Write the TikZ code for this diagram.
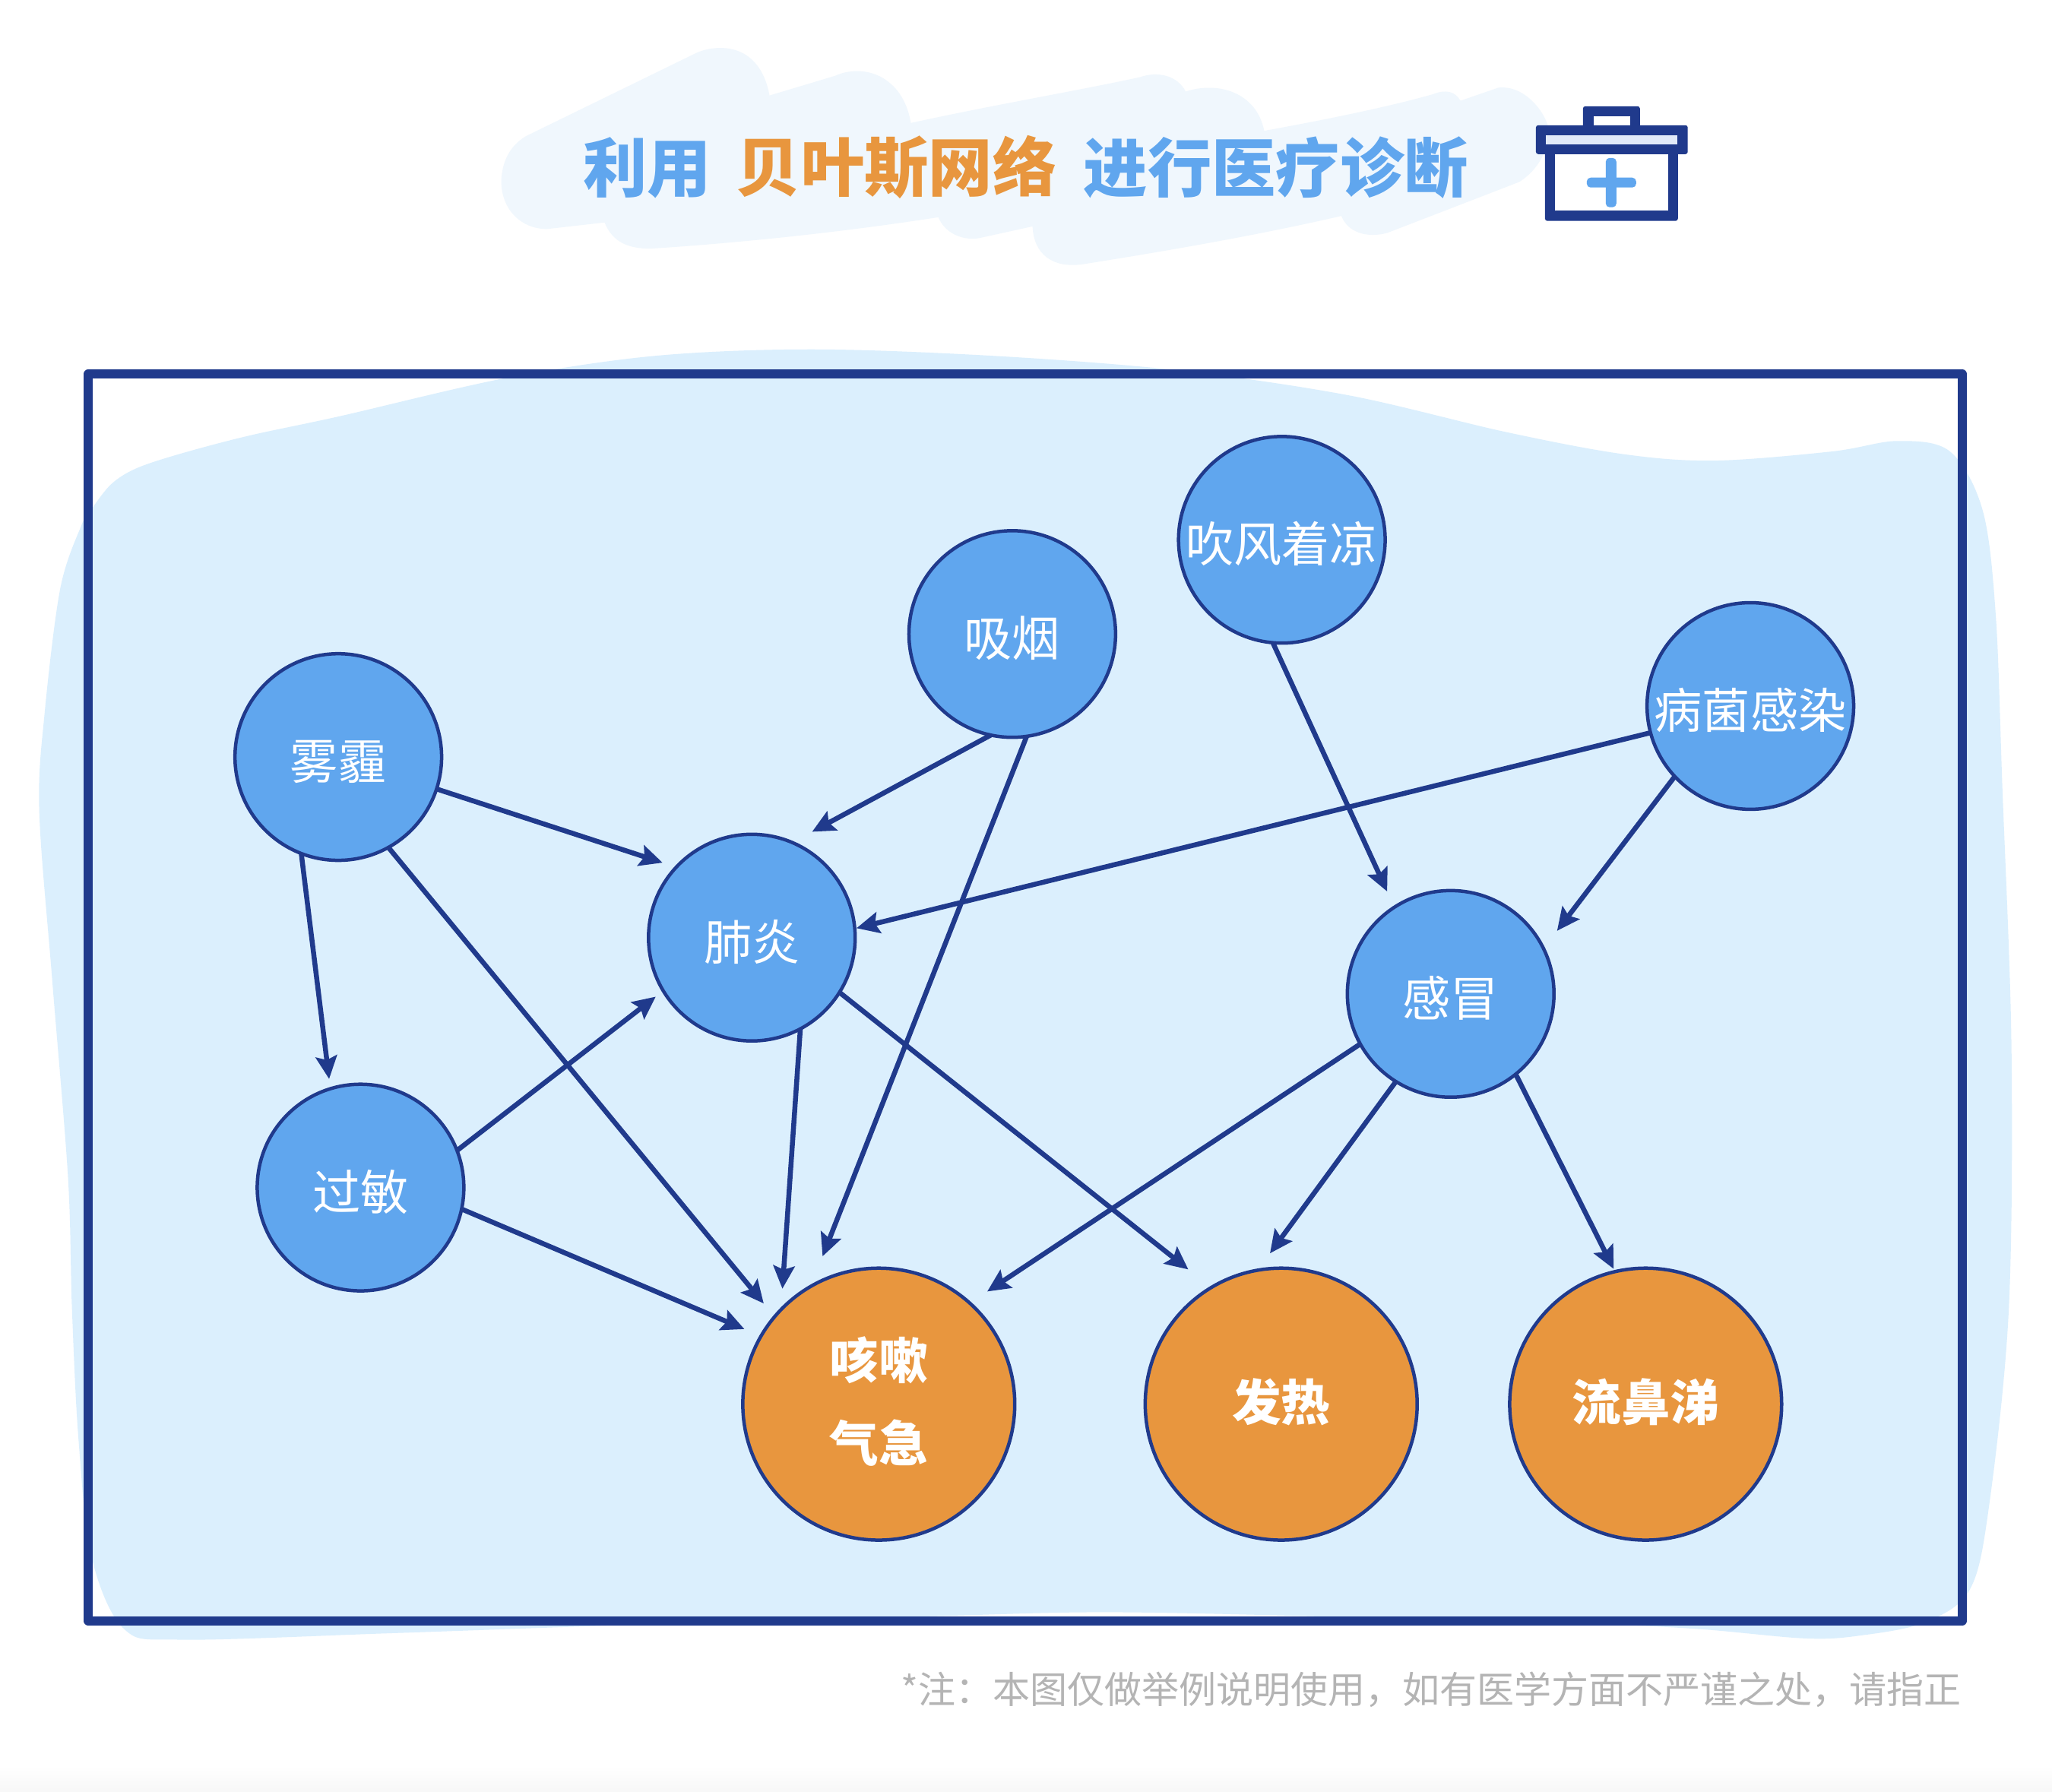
\documentclass[tikz,border=0pt]{standalone}
\usepackage{fontspec}
\setmainfont{Noto Sans CJK SC}
\usetikzlibrary{arrows.meta}
\definecolor{navy}{HTML}{203A8C}
\definecolor{nodeblue}{HTML}{60A6EE}
\definecolor{nodeorange}{HTML}{E8963E}
\definecolor{blobblue}{HTML}{DBEFFD}
\definecolor{titleblob}{HTML}{F0F7FD}
\definecolor{notegrey}{HTML}{B4B4B4}
\definecolor{lidlight}{HTML}{E1EAF9}
\newcommand{\lowerbox}{\rule{0pt}{0.645cm}}
\newcommand{\raisebottom}{\rule[-0.13cm]{0pt}{0.13cm}}
\tikzset{
  causenode/.style={circle,draw=navy,line width=0.045cm,fill=nodeblue,minimum size=2.72cm,inner sep=0pt,outer sep=0pt,text=white,font=\fontsize{18}{31}\selectfont,align=center},
  symptomnode/.style={circle,draw=navy,line width=0.045cm,fill=nodeorange,minimum size=3.58cm,inner sep=0pt,outer sep=0pt,text=white,font=\fontsize{18.4}{31}\selectfont\bfseries,align=center},
  conn/.style={draw=navy,line width=0.065cm,-{Stealth[length=0.3cm,width=0.28cm,inset=0.05cm]}},
  titletext/.style={font=\fontsize{24}{28}\selectfont\bfseries,inner sep=0pt},
}
\begin{document}
\begin{tikzpicture}[x=0.01722cm,y=-0.01722cm]
\useasboundingbox (0,0) rectangle (1568,1369.4);
\fill[white] (0,0) rectangle (1568,1369.4);
\shade[top color=white,bottom color=black!3] (0,1349) rectangle (1568,1369.4);
% title brush
\fill[titleblob] (383,138) .. controls (384,120) and (392,110) .. (402,104)
 -- (531,41) .. controls (545,34) and (580,30) .. (588,73)
 -- (638,58) .. controls (660,48) and (690,58) .. (696,94)
 .. controls (760,80) and (820,70) .. (871,59) .. controls (885,54) and (900,58) .. (906,70)
 .. controls (930,62) and (960,70) .. (966,100)
 .. controls (1010,92) and (1060,82) .. (1095,72) .. controls (1105,68) and (1112,70) .. (1116,77)
 -- (1145,67) .. controls (1165,65) and (1180,85) .. (1183,97)
 .. controls (1184,115) and (1175,130) .. (1161,139)
 -- (1060,178) .. controls (1045,182) and (1030,178) .. (1025,165)
 .. controls (960,180) and (890,192) .. (827,202) .. controls (805,205) and (790,195) .. (789,173)
 -- (748,182) .. controls (735,184) and (722,178) .. (717,166)
 .. controls (640,178) and (560,186) .. (497,190) .. controls (480,190) and (468,185) .. (462,170)
 -- (418,175) .. controls (398,175) and (383,160) .. (383,138) -- cycle;
% pale blob behind the frame
\fill[blobblue] plot[smooth cycle,tension=0.55] coordinates {
 (190,333) (260,318) (386,289) (500,272) (620,267) (760,272) (900,283) (1030,302) (1150,330)
 (1240,347) (1310,352) (1400,345) (1450,337) (1490,345) (1515,390) (1525,470) (1530,600)
 (1537,800) (1535,1000) (1520,1150) (1505,1215) (1470,1240) (1420,1250) (1379,1252)
 (1300,1245) (1220,1241) (1040,1236) (850,1232) (714,1235) (500,1241) (300,1248)
 (140,1253) (95,1245) (70,1190) (60,1100) (55,1000) (52,900) (40,750) (30,620)
 (34,546) (46,450) (62,402) (70,389) (85,370) (104,358) (137,347)};
% frame
\draw[navy,line width=0.115cm,line join=round] (67.4,285.7) rectangle (1499.4,1238.7);
% title
\node[titletext,text=nodeblue] (t1) at (494.5,128) {利用};
\node[titletext,text=nodeorange] (t2) at (685,128) {贝叶斯网络};
\node[titletext,text=nodeblue] (t3) at (975,128) {进行医疗诊断};
% icon, in reference pixels
\begin{scope}[x=0.01cm,y=-0.01cm,xshift=0.02cm]
 \fill[navy,rounded corners=0.03cm] (2083,140) rectangle (2158,170);
 \fill[white] (2097,153) rectangle (2145,165);
 \fill[navy,rounded corners=0.03cm] (2033,195) rectangle (2208,291);
 \fill[white] (2046,203) rectangle (2195,277);
 \fill[navy,rounded corners=0.03cm] (2021,165) rectangle (2221,203);
 \fill[lidlight] (2034,178) rectangle (2207,190);
 \fill[nodeblue,rounded corners=0.05cm] (2088,234) rectangle (2153,247);
 \fill[nodeblue,rounded corners=0.05cm] (2113,208) rectangle (2127,273);
\end{scope}
% nodes
\node[causenode] (wm) at (258.5,578.5) {\lowerbox 雾霾};
\node[causenode] (xy) at (773.5,484.5) {\lowerbox 吸烟};
\node[causenode] (cf) at (979.5,412.5) {\lowerbox 吹风着凉};
\node[causenode] (bj) at (1337.5,539.5) {\lowerbox 病菌感染};
\node[causenode] (fy) at (574.5,716.5) {\lowerbox 肺炎};
\node[causenode] (gm) at (1108.5,759.5) {\lowerbox 感冒};
\node[causenode] (gu) at (275.5,907.5) {\lowerbox 过敏};
\node[symptomnode] (ks) at (671.5,1073) {咳嗽\\气急\raisebottom};
\node[symptomnode] (fr) at (979,1073) {发热\raisebottom};
\node[symptomnode] (lb) at (1257.5,1073) {流鼻涕\raisebottom};
% connectors
\draw[conn,shorten >=0.19cm] (wm.-18.4) -- (fy.137.5);
\draw[conn,shorten >=0.13cm] (wm.249.5) -- (gu.107);
\draw[conn,shorten >=0.226cm] (wm.-61.2) -- (ks.140);
\draw[conn,shorten >=0.126cm] (gu.21.4) -- (fy.211.8);
\draw[conn,shorten >=0.238cm] (gu.-12.8) -- (ks.150.3);
\draw[conn,shorten >=0.298cm] (xy.258.4) -- (fy.67.2);
\draw[conn,shorten >=0.425cm] (xy.-82.1) -- (ks.120);
\draw[conn,shorten >=0.277cm] (fy.-62.1) -- (ks.136.2);
\draw[conn,shorten >=0.384cm] (fy.-32.1) -- (fr.121);
\draw[conn,shorten >=0.229cm] (cf.-95) -- (gm.123.5);
\draw[conn,shorten >=0.024cm] (bj.195.6) -- (fy.5.6);
\draw[conn,shorten >=0.294cm] (bj.223) -- (gm.26.6);
\draw[conn,shorten >=0.276cm] (gm.209.8) -- (ks.48);
\draw[conn,shorten >=0.276cm] (gm.238) -- (fr.100.8);
\draw[conn,shorten >=0.04cm] (gm.-51.7) -- (lb.103.9);
% note
\node[anchor=east,inner sep=0pt,text=notegrey,font=\fontsize{13.95}{16}\selectfont] (note) at (1499,1291) {*注：本图仅做举例说明使用，如有医学方面不严谨之处，请指正};
\end{tikzpicture}
\end{document}
